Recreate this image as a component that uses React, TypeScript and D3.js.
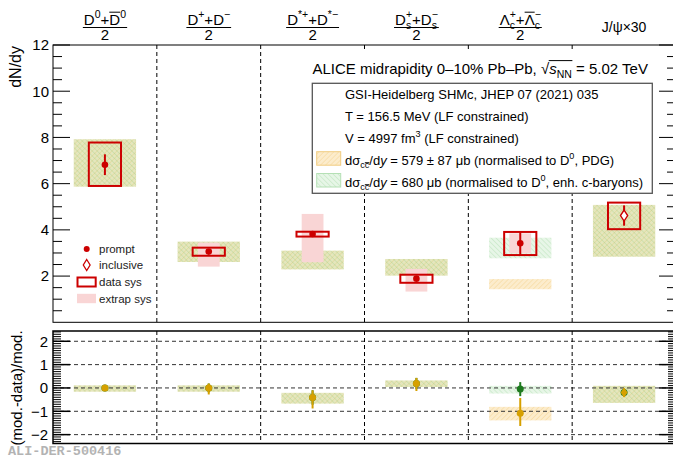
import React, { useEffect, useRef } from 'react';
import * as d3 from 'd3';

// ---------- data ----------
const categories = ['D0', 'Dplus', 'Dstar', 'Ds', 'Lc', 'Jpsi'];

// measured yields dN/dy (J/psi multiplied by 30)
const dataValue = [6.82, 3.06, 3.82, 1.89, 3.42, 4.62];
const dataStatErr = [0.45, 0.08, 0.06, 0.07, 0.5, 0.44];
const dataSysLow = [5.9, 2.88, 3.71, 1.71, 2.91, 4.03];
const dataSysHigh = [7.78, 3.23, 3.92, 2.06, 3.91, 5.18];
const extrapLow: (number | null)[] = [null, 2.41, 2.6, 1.33, 2.99, null];
const extrapHigh: (number | null)[] = [null, 3.45, 4.69, 2.31, 3.85, null];
const isInclusive = [false, false, false, false, false, true];

// SHMc bands: sigma_cc = 579 ± 87 µb (PDG) and 680 µb (enh. c-baryons)
const shmPdgLow = [5.87, 2.61, 2.29, 2.02, 1.43, 2.84];
const shmPdgHigh = [7.92, 3.49, 3.1, 2.74, 1.87, 5.08];
const shmEnhLow = [5.87, 2.61, 2.29, 2.02, 2.77, 2.84];
const shmEnhHigh = [7.92, 3.49, 3.1, 2.74, 3.66, 5.08];

// (model - data)/model
const ratioPdg = [0.0, 0.0, -0.41, 0.19, -1.08, -0.2];
const ratioPdgErrLow = [0.04, 0.28, 0.47, 0.32, 0.55, 0.19];
const ratioPdgErrHigh = [0.04, 0.19, 0.31, 0.24, 0.65, 0.17];
const ratioPdgBandLow = [-0.16, -0.16, -0.67, 0.04, -1.39, -0.64];
const ratioPdgBandHigh = [0.11, 0.11, -0.21, 0.32, -0.81, 0.09];
const ratioEnh = [0.0, 0.0, -0.41, 0.19, -0.05, -0.2];
const ratioEnhErr = [0.04, 0.19, 0.31, 0.24, 0.3, 0.17];
const ratioEnhBandLow = [-0.16, -0.16, -0.67, 0.04, -0.24, -0.64];
const ratioEnhBandHigh = [0.11, 0.11, -0.21, 0.32, 0.09, 0.09];

const topTicks = [2, 4, 6, 8, 10, 12];
const bottomTicks = [-2, -1, 0, 1, 2];

type Part = {
  t: string;
  sup?: boolean;
  sub?: boolean;
  it?: boolean;
  over?: boolean;
  root?: boolean;
  stack?: boolean;
};

const headerLabels: (Part[] | string)[] = [
  [{ t: 'D' }, { t: '0', sup: true }, { t: '+' }, { t: 'D', over: true }, { t: '0', sup: true }],
  [{ t: 'D' }, { t: '+', sup: true }, { t: '+' }, { t: 'D' }, { t: '\u2212', sup: true }],
  [{ t: 'D' }, { t: '*+', sup: true }, { t: '+' }, { t: 'D' }, { t: '*\u2212', sup: true }],
  [
    { t: 'D' }, { t: '+', sup: true }, { t: 's', sub: true, stack: true }, { t: '+' },
    { t: 'D' }, { t: '\u2212', sup: true }, { t: 's', sub: true, stack: true },
  ],
  [
    { t: '\u039B' }, { t: '+', sup: true }, { t: 'c', sub: true, stack: true }, { t: '+' },
    { t: '\u039B', over: true }, { t: '\u2212', sup: true }, { t: 'c', sub: true, stack: true },
  ],
  'J/\u03C8\u00D730',
];

const titleParts: Part[] = [
  { t: 'ALICE midrapidity 0\u201310% Pb\u2013Pb, \u221A' },
  { t: 's', it: true, root: true },
  { t: 'NN', sub: true, root: true },
  { t: ' = 5.02 TeV' },
];

const modelLines: Part[][] = [
  [{ t: 'GSI-Heidelberg SHMc, JHEP 07 (2021) 035' }],
  [{ t: 'T = 156.5 MeV (LF constrained)' }],
  [{ t: 'V = 4997 fm' }, { t: '3', sup: true }, { t: ' (LF constrained)' }],
  [
    { t: 'd\u03C3' }, { t: 'c', sub: true }, { t: 'c', sub: true, over: true }, { t: '/d' }, { t: 'y', it: true },
    { t: ' = 579 \u00B1 87 \u03BCb (normalised to D' }, { t: '0', sup: true }, { t: ', PDG)' },
  ],
  [
    { t: 'd\u03C3' }, { t: 'c', sub: true }, { t: 'c', sub: true, over: true }, { t: '/d' }, { t: 'y', it: true },
    { t: ' = 680 \u03BCb (normalised to D' }, { t: '0', sup: true }, { t: ', enh. c-baryons)' },
  ],
];

const markerLegend = ['prompt', 'inclusive', 'data sys', 'extrap sys'];

// ---------- style ----------
const W = 673;
const H = 458;
const FONT = "'Liberation Sans', Arial, Helvetica, sans-serif";
const RED = '#cc0000';
const GOLD = '#d6a000';
const DKGREEN = '#1d7a1d';
const PINK = '#f9d5d5';

type Sel = d3.Selection<any, unknown, null, undefined>;

function rich(g: Sel, x: number, y: number, parts: Part[], size: number, anchor = 'start'): Sel {
  const text = g
    .append('text')
    .attr('x', x)
    .attr('y', y)
    .attr('font-size', size)
    .attr('font-family', FONT)
    .attr('text-anchor', anchor)
    .attr('fill', '#000');
  let off = 0;
  let prev: SVGTextContentElement | null = null;
  let pendingDx = 0;
  let idx = 0;
  const overs: { s: number; e: number; small: boolean; lower: boolean }[] = [];
  let rootStart = -1;
  let rootEnd = -1;
  parts.forEach((p) => {
    const target = p.sup ? -0.42 * size : p.sub ? 0.3 * size : 0;
    const ts = text.append('tspan').text(p.t).attr('dy', target - off);
    off = target;
    if (p.sup || p.sub) ts.attr('font-size', size * 0.7);
    if (p.it) ts.attr('font-style', 'italic');
    if (p.stack && prev) {
      const pw = prev.getComputedTextLength();
      ts.attr('dx', -pw);
      const sw = (ts.node() as SVGTextContentElement).getComputedTextLength();
      pendingDx = Math.max(0, pw - sw);
    } else if (pendingDx > 0) {
      ts.attr('dx', pendingDx);
      pendingDx = 0;
    }
    const n = p.t.length;
    if (p.over) overs.push({ s: idx, e: idx + n - 1, small: !!(p.sup || p.sub), lower: p.t === p.t.toLowerCase() });
    if (p.root) {
      if (rootStart < 0) rootStart = idx;
      rootEnd = idx + n - 1;
    }
    idx += n;
    prev = ts.node() as SVGTextContentElement;
  });
  const el = text.node() as SVGTextContentElement;
  overs.forEach((o) => {
    const s = el.getStartPositionOfChar(o.s);
    const e = el.getEndPositionOfChar(o.e);
    const fs = o.small ? size * 0.7 : size;
    const h = o.lower ? 0.62 * fs : 0.82 * fs;
    g.append('line')
      .attr('x1', s.x)
      .attr('x2', e.x)
      .attr('y1', s.y - h)
      .attr('y2', s.y - h)
      .attr('stroke', '#000')
      .attr('stroke-width', 1);
  });
  if (rootStart >= 0) {
    // radical bar running over the whole argument
    const s = el.getStartPositionOfChar(rootStart);
    const e = el.getEndPositionOfChar(rootEnd);
    const yy = y - 0.86 * size;
    g.append('line')
      .attr('x1', s.x - 0.5)
      .attr('x2', e.x + 0.5)
      .attr('y1', yy)
      .attr('y2', yy)
      .attr('stroke', '#000')
      .attr('stroke-width', 1);
  }
  return text;
}

function diamondPath(w: number, h: number) {
  return `M0,${-h} L${w},0 L0,${h} L${-w},0 Z`;
}

function draw(svg: Sel) {
  const xL = 53;
  const xR = 676;
  const x = d3.scaleBand<string>().domain(categories).range([xL, xR]);
  const cx = (i: number) => (x(categories[i]) as number) + x.bandwidth() / 2;
  const bw = x.bandwidth();

  const yTop = d3.scaleLinear().domain([0, 12]).range([322.3, 45]);
  const yBot = d3.scaleLinear().domain([-2.38, 2.44]).range([443.5, 331]);

  svg.append('rect').attr('width', W).attr('height', H).attr('fill', '#fff');

  const defs = svg.append('defs');
  const pat = (id: string, angle: number, bg: string, line: string) => {
    const p = defs
      .append('pattern')
      .attr('id', id)
      .attr('patternUnits', 'userSpaceOnUse')
      .attr('width', 3.5)
      .attr('height', 3.5)
      .attr('patternTransform', `rotate(${angle})`);
    p.append('rect').attr('width', 3.5).attr('height', 3.5).attr('fill', bg);
    p.append('line').attr('x1', 0).attr('x2', 0).attr('y1', 0).attr('y2', 3.5).attr('stroke', line).attr('stroke-width', 1.3);
  };
  pat('hPdg', 45, 'rgba(245,192,85,0.30)', 'rgba(236,178,60,0.30)');
  pat('hEnh', -45, 'rgba(120,205,120,0.18)', 'rgba(95,190,95,0.24)');

  // ---------------- top panel ----------------
  const top = svg.append('g');

  // column dividers
  for (let i = 1; i < categories.length; i++) {
    const xx = x(categories[i]) as number;
    top.append('line').attr('x1', xx).attr('x2', xx).attr('y1', yTop(12)).attr('y2', yTop(0))
      .attr('stroke', '#000').attr('stroke-width', 1).attr('stroke-dasharray', '4,3');
  }

  const bandHalf = bw * 0.3;
  const boxHalf = bw * 0.155;
  const pinkHalf = bw * 0.105;

  categories.forEach((_, i) => {
    const c = cx(i);
    top.append('rect').attr('x', c - bandHalf).attr('width', 2 * bandHalf)
      .attr('y', yTop(shmPdgHigh[i])).attr('height', yTop(shmPdgLow[i]) - yTop(shmPdgHigh[i]))
      .attr('fill', 'url(#hPdg)');
    top.append('rect').attr('x', c - bandHalf).attr('width', 2 * bandHalf)
      .attr('y', yTop(shmEnhHigh[i])).attr('height', yTop(shmEnhLow[i]) - yTop(shmEnhHigh[i]))
      .attr('fill', 'url(#hEnh)');
  });

  categories.forEach((_, i) => {
    const c = cx(i);
    const lo = extrapLow[i];
    const hi = extrapHigh[i];
    if (lo != null && hi != null) {
      top.append('rect').attr('x', c - pinkHalf).attr('width', 2 * pinkHalf)
        .attr('y', yTop(hi)).attr('height', yTop(lo) - yTop(hi)).attr('fill', PINK);
    }
    top.append('rect').attr('x', c - boxHalf).attr('width', 2 * boxHalf)
      .attr('y', yTop(dataSysHigh[i])).attr('height', yTop(dataSysLow[i]) - yTop(dataSysHigh[i]))
      .attr('fill', 'none').attr('stroke', RED).attr('stroke-width', 2);
    top.append('line').attr('x1', c).attr('x2', c)
      .attr('y1', yTop(dataValue[i] + dataStatErr[i])).attr('y2', yTop(dataValue[i] - dataStatErr[i]))
      .attr('stroke', RED).attr('stroke-width', 2);
    if (isInclusive[i]) {
      top.append('path').attr('d', diamondPath(3.6, 5.5))
        .attr('transform', `translate(${c},${yTop(dataValue[i])})`)
        .attr('fill', '#fff').attr('stroke', RED).attr('stroke-width', 1.4);
    } else {
      top.append('circle').attr('cx', c).attr('cy', yTop(dataValue[i])).attr('r', 3.3).attr('fill', RED);
    }
  });

  // title & model legend
  top.append('rect').attr('x', 306).attr('y', 52).attr('width', 356).attr('height', 31).attr('fill', '#fff');
  rich(top, 312.5, 73.5, titleParts, 15);

  top.append('rect').attr('x', 312.3).attr('y', 83.3).attr('width', 340).attr('height', 110)
    .attr('fill', '#fff').attr('stroke', '#555').attr('stroke-width', 1.3);
  const lineY = [98.5, 120.5, 142.5, 164.5, 186.5];
  modelLines.forEach((parts, k) => rich(top, 345, lineY[k], parts, 13));
  top.append('rect').attr('x', 316.7).attr('y', 151.7).attr('width', 24).attr('height', 13.5)
    .attr('fill', 'url(#hPdg)').attr('stroke', '#f1cc80').attr('stroke-width', 1);
  top.append('rect').attr('x', 316.7).attr('y', 173.5).attr('width', 24).attr('height', 13.5)
    .attr('fill', 'url(#hEnh)').attr('stroke', '#b5e0b5').attr('stroke-width', 1);

  // marker legend
  const mlX = 86.7;
  const mlY = [249, 265, 282, 298.5];
  top.append('circle').attr('cx', mlX).attr('cy', mlY[0]).attr('r', 3).attr('fill', RED);
  top.append('path').attr('d', diamondPath(3.4, 5.5)).attr('transform', `translate(${mlX},${mlY[1]})`)
    .attr('fill', '#fff').attr('stroke', RED).attr('stroke-width', 1.3);
  top.append('rect').attr('x', 77.5).attr('y', mlY[2] - 4.5).attr('width', 18.2).attr('height', 9)
    .attr('fill', 'none').attr('stroke', RED).attr('stroke-width', 2);
  top.append('rect').attr('x', 77).attr('y', mlY[3] - 4.7).attr('width', 19).attr('height', 9.4).attr('fill', PINK);
  markerLegend.forEach((t, k) => {
    top.append('text').attr('x', 99).attr('y', mlY[k]).attr('dy', '0.35em').attr('font-size', 11.5)
      .attr('font-family', FONT).attr('fill', '#222').text(t);
  });

  // frame & axis
  top.append('rect').attr('x', xL).attr('y', yTop(12)).attr('width', xR - xL).attr('height', yTop(0) - yTop(12))
    .attr('fill', 'none').attr('stroke', '#000').attr('stroke-width', 1);
  d3.range(1, 25).map((k) => k * 0.5).forEach((v) => {
    const major = Math.abs(v / 2 - Math.round(v / 2)) < 1e-6;
    const len = major ? 17 : 9;
    const yy = yTop(v);
    top.append('line').attr('x1', xL).attr('x2', xL + len).attr('y1', yy).attr('y2', yy).attr('stroke', '#000');
    top.append('line').attr('x1', xR).attr('x2', xR - len).attr('y1', yy).attr('y2', yy).attr('stroke', '#000');
  });
  topTicks.forEach((v) => {
    top.append('text').attr('x', 49).attr('y', yTop(v)).attr('dy', '0.36em').attr('text-anchor', 'end')
      .attr('font-size', 15).attr('font-family', FONT).text(String(v));
  });
  top.append('text').attr('transform', 'translate(21,46) rotate(-90)').attr('text-anchor', 'end')
    .attr('font-size', 16).attr('font-family', FONT).text('dN/dy');

  // headers
  headerLabels.forEach((lab, i) => {
    const c = cx(i);
    if (typeof lab === 'string') {
      svg.append('text').attr('x', c).attr('y', 32).attr('text-anchor', 'middle').attr('font-size', 14)
        .attr('font-family', FONT).text(lab);
      return;
    }
    const t = rich(svg, c, 24.5, lab, 15, 'middle');
    const bb = (t.node() as SVGGraphicsElement).getBBox();
    svg.append('line').attr('x1', bb.x - 1).attr('x2', bb.x + bb.width + 1).attr('y1', 27.5).attr('y2', 27.5)
      .attr('stroke', '#000').attr('stroke-width', 1.2);
    svg.append('text').attr('x', c).attr('y', 40).attr('text-anchor', 'middle').attr('font-size', 15)
      .attr('font-family', FONT).text('2');
  });

  // ---------------- bottom panel ----------------
  const bot = svg.append('g');
  categories.forEach((_, i) => {
    const c = cx(i);
    bot.append('rect').attr('x', c - bandHalf).attr('width', 2 * bandHalf)
      .attr('y', yBot(ratioPdgBandHigh[i])).attr('height', yBot(ratioPdgBandLow[i]) - yBot(ratioPdgBandHigh[i]))
      .attr('fill', 'url(#hPdg)');
    bot.append('rect').attr('x', c - bandHalf).attr('width', 2 * bandHalf)
      .attr('y', yBot(ratioEnhBandHigh[i])).attr('height', yBot(ratioEnhBandLow[i]) - yBot(ratioEnhBandHigh[i]))
      .attr('fill', 'url(#hEnh)');
  });

  bottomTicks.forEach((v) => {
    bot.append('line').attr('x1', xL).attr('x2', xR).attr('y1', yBot(v)).attr('y2', yBot(v))
      .attr('stroke', '#333').attr('stroke-width', 1).attr('stroke-dasharray', '4,3');
  });
  for (let i = 1; i < categories.length; i++) {
    const xx = x(categories[i]) as number;
    bot.append('line').attr('x1', xx).attr('x2', xx).attr('y1', yBot(2.44)).attr('y2', yBot(-2.38))
      .attr('stroke', '#000').attr('stroke-width', 1).attr('stroke-dasharray', '4,3');
  }

  categories.forEach((_, i) => {
    const c = cx(i);
    bot.append('line').attr('x1', c).attr('x2', c)
      .attr('y1', yBot(ratioEnh[i] + ratioEnhErr[i])).attr('y2', yBot(ratioEnh[i] - ratioEnhErr[i]))
      .attr('stroke', DKGREEN).attr('stroke-width', 2);
    bot.append('circle').attr('cx', c).attr('cy', yBot(ratioEnh[i])).attr('r', 3.5).attr('fill', DKGREEN);
  });
  categories.forEach((_, i) => {
    const c = cx(i);
    bot.append('line').attr('x1', c).attr('x2', c)
      .attr('y1', yBot(ratioPdg[i] + ratioPdgErrHigh[i])).attr('y2', yBot(ratioPdg[i] - ratioPdgErrLow[i]))
      .attr('stroke', GOLD).attr('stroke-width', 2);
    if (isInclusive[i]) {
      bot.append('path').attr('d', diamondPath(3.5, 5)).attr('transform', `translate(${c},${yBot(ratioPdg[i])})`)
        .attr('fill', GOLD);
    } else {
      bot.append('circle').attr('cx', c).attr('cy', yBot(ratioPdg[i])).attr('r', 3.5).attr('fill', GOLD);
    }
  });

  bot.append('rect').attr('x', xL).attr('y', yBot(2.44)).attr('width', xR - xL).attr('height', yBot(-2.38) - yBot(2.44))
    .attr('fill', 'none').attr('stroke', '#000').attr('stroke-width', 1.5);
  d3.range(-23, 25).forEach((k) => {
    const v = k / 10;
    const major = k % 10 === 0;
    const len = major ? 17 : 8;
    const yy = yBot(v);
    bot.append('line').attr('x1', xL).attr('x2', xL + len).attr('y1', yy).attr('y2', yy).attr('stroke', '#000').attr('stroke-width', major ? 1.5 : 1);
    bot.append('line').attr('x1', xR).attr('x2', xR - len).attr('y1', yy).attr('y2', yy).attr('stroke', '#000').attr('stroke-width', major ? 1.5 : 1);
  });
  bottomTicks.forEach((v) => {
    bot.append('text').attr('x', 48).attr('y', yBot(v)).attr('dy', '0.36em').attr('text-anchor', 'end')
      .attr('font-size', 15).attr('font-family', FONT).text(v < 0 ? `\u2212${Math.abs(v)}` : String(v));
  });
  bot.append('text').attr('transform', `translate(22,${yBot(0)}) rotate(-90)`).attr('text-anchor', 'middle')
    .attr('font-size', 15).attr('font-family', FONT).text('(mod.-data)/mod.');

  svg.append('text').attr('x', 8).attr('y', 454.5).attr('font-size', 13.5).attr('font-weight', 'bold')
    .attr('font-family', "'Liberation Mono', 'DejaVu Sans Mono', monospace").attr('fill', '#b3b3b3')
    .text('ALI-DER-500416');
}

export default function App() {
  const ref = useRef<SVGSVGElement>(null);
  useEffect(() => {
    if (!ref.current) return;
    const svg = d3.select(ref.current) as unknown as Sel;
    svg.selectAll('*').remove();
    draw(svg);
  }, []);
  return (
    <svg
      ref={ref}
      width={W}
      height={H}
      style={{ position: 'absolute', left: 0, top: 0, background: '#fff', overflow: 'hidden' }}
    />
  );
}
